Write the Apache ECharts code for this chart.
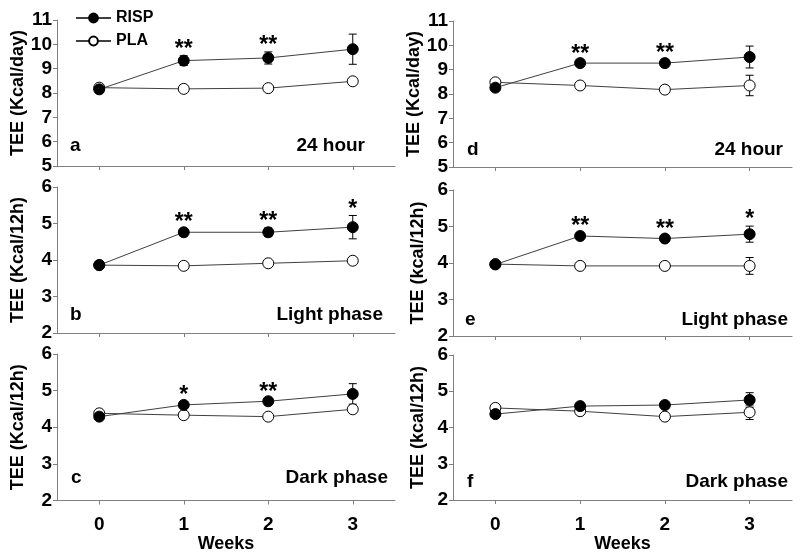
<!DOCTYPE html>
<html><head><meta charset="utf-8">
<script src="https://cdn.jsdelivr.net/npm/echarts@6/dist/echarts.min.js"></script>
<style>html,body{margin:0;padding:0;background:#fff}#c{width:800px;height:555px}</style>
</head><body><div id="c"></div>
<script>
const weeks = ['0', '1', '2', '3'];
const yTicks24 = [5, 11];
const yTicks12 = [2, 6];

// Panel a (left, 24 hour)
const rispA = [8.15, 9.33, 9.44, 9.80];
const rispAErr = [0.08, 0.20, 0.25, 0.62];
const plaA = [8.22, 8.17, 8.20, 8.48];
const plaAErr = [0.08, 0.12, 0.08, 0.10];
const starsA = ['', '**', '**', ''];
// Panel b (left, light phase)
const rispB = [3.86, 4.76, 4.76, 4.90];
const rispBErr = [0.05, 0.10, 0.12, 0.32];
const plaB = [3.86, 3.84, 3.91, 3.98];
const plaBErr = [0.05, 0.05, 0.05, 0.07];
const starsB = ['', '**', '**', '*'];
// Panel c (left, dark phase)
const rispC = [4.29, 4.61, 4.71, 4.91];
const rispCErr = [0.05, 0.08, 0.08, 0.28];
const plaC = [4.38, 4.33, 4.29, 4.49];
const plaCErr = [0.05, 0.08, 0.05, 0.08];
const starsC = ['', '*', '**', ''];
// Panel d (right, 24 hour)
const rispD = [8.26, 9.27, 9.27, 9.52];
const rispDErr = [0.08, 0.12, 0.15, 0.45];
const plaD = [8.48, 8.35, 8.18, 8.35];
const plaDErr = [0.08, 0.12, 0.15, 0.42];
const starsD = ['', '**', '**', ''];
// Panel e (right, light phase)
const rispE = [3.96, 4.74, 4.67, 4.79];
const rispEErr = [0.05, 0.08, 0.08, 0.22];
const plaE = [3.97, 3.92, 3.92, 3.92];
const plaEErr = [0.05, 0.06, 0.06, 0.23];
const starsE = ['', '**', '**', '*'];
// Panel f (right, dark phase)
const rispF = [4.37, 4.59, 4.62, 4.76];
const rispFErr = [0.05, 0.06, 0.06, 0.20];
const plaF = [4.54, 4.45, 4.30, 4.42];
const plaFErr = [0.05, 0.05, 0.07, 0.20];
const starsF = ['', '', '', ''];

const yNames = ['TEE (Kcal/day)', 'TEE (Kcal/12h)', 'TEE (Kcal/12h)', 'TEE (Kcal/day)', 'TEE (kcal/12h)', 'TEE (kcal/12h)'];
const panelLetters = ['a', 'b', 'c', 'd', 'e', 'f'];
const panelTitles = ['24 hour', 'Light phase', 'Dark phase', '24 hour', 'Light phase', 'Dark phase'];

const FONT = 'Liberation Sans, Arial, sans-serif';
const panels = [
  {risp: rispA, re: rispAErr, pla: plaA, pe: plaAErr, stars: starsA, yr: yTicks24},
  {risp: rispB, re: rispBErr, pla: plaB, pe: plaBErr, stars: starsB, yr: yTicks12},
  {risp: rispC, re: rispCErr, pla: plaC, pe: plaCErr, stars: starsC, yr: yTicks12},
  {risp: rispD, re: rispDErr, pla: plaD, pe: plaDErr, stars: starsD, yr: yTicks24},
  {risp: rispE, re: rispEErr, pla: plaE, pe: plaEErr, stars: starsE, yr: yTicks12},
  {risp: rispF, re: rispFErr, pla: plaF, pe: plaFErr, stars: starsF, yr: yTicks12}
];

const gridPos = [
  {left: 57, top: 20, width: 338, height: 146},
  {left: 57, top: 187, width: 338, height: 146},
  {left: 57, top: 354, width: 338, height: 146.5},
  {left: 453, top: 21, width: 339, height: 146},
  {left: 453, top: 190, width: 339, height: 146},
  {left: 453, top: 355, width: 339, height: 145}
];

const AXC = '#808080';
const grids = [], xAxes = [], yAxes = [], series = [];
panels.forEach((p, i) => {
  grids.push(gridPos[i]);
  const bottomRow = (i === 2 || i === 5);
  xAxes.push({
    type: 'category', gridIndex: i, data: weeks, boundaryGap: true,
    axisLine: {show: true, lineStyle: {color: AXC, width: 1}},
    axisTick: {show: true, alignWithLabel: true, length: 4, lineStyle: {color: AXC}},
    axisLabel: {show: bottomRow, margin: 15, color: '#000', fontFamily: FONT, fontWeight: 'bold', fontSize: 19},
    name: bottomRow ? 'Weeks' : '', nameLocation: 'middle', nameGap: 34,
    nameTextStyle: {color: '#000', fontFamily: FONT, fontWeight: 'bold', fontSize: 18},
    splitLine: {show: false}
  });
  yAxes.push({
    type: 'value', gridIndex: i, min: p.yr[0], max: p.yr[1], interval: 1,
    axisLine: {show: true, lineStyle: {color: AXC, width: 1}},
    axisTick: {show: true, length: 4, lineStyle: {color: AXC}},
    axisLabel: {margin: 5, color: '#000', fontFamily: FONT, fontWeight: 'bold', fontSize: 19},
    splitLine: {show: false},
    name: yNames[i], nameLocation: 'middle', nameGap: i < 3 ? 29.5 : 26,
    nameTextStyle: {color: '#000', fontFamily: FONT, fontWeight: 'bold', fontSize: 18}
  });
  const mkErr = (vals, errs, stars) => ({
    type: 'custom', xAxisIndex: i, yAxisIndex: i, z: 1, silent: true,
    data: vals.map((v, k) => [k, v, errs[k]]),
    renderItem: (params, api) => {
      const x = api.value(0), m = api.value(1), e = api.value(2);
      const top = api.coord([x, m + e]);
      const bot = api.coord([x, m - e]);
      const w = 4;
      const ls = {stroke: '#000', lineWidth: 1};
      const children = [
        {type: 'line', shape: {x1: top[0], y1: top[1], x2: bot[0], y2: bot[1]}, style: ls},
        {type: 'line', shape: {x1: top[0] - w, y1: top[1], x2: top[0] + w, y2: top[1]}, style: ls},
        {type: 'line', shape: {x1: bot[0] - w, y1: bot[1], x2: bot[0] + w, y2: bot[1]}, style: ls}
      ];
      const s = stars ? stars[params.dataIndex] : '';
      if (s) {
        children.push({type: 'text', style: {text: s, x: top[0], y: top[1] - 6, align: 'center', verticalAlign: 'middle',
          font: 'bold 23px ' + FONT, fill: '#000'}});
      }
      return {type: 'group', children};
    }
  });
  series.push(mkErr(p.pla, p.pe, null));
  series.push(mkErr(p.risp, p.re, p.stars));
  series.push({
    name: 'PLA', type: 'line', xAxisIndex: i, yAxisIndex: i, data: p.pla, z: 3,
    symbol: 'circle', symbolSize: 11, lineStyle: {color: '#404040', width: 1},
    itemStyle: {color: '#fff', borderColor: '#000', borderWidth: 1}, silent: true
  });
  series.push({
    name: 'RISP', type: 'line', xAxisIndex: i, yAxisIndex: i, data: p.risp, z: 4,
    symbol: 'circle', symbolSize: 11, lineStyle: {color: '#404040', width: 1},
    itemStyle: {color: '#000', borderColor: '#000', borderWidth: 1}, silent: true
  });
});

const labelPos = [
  {lx: 70, rx: 365, y: 147}, {lx: 70, rx: 383, y: 316}, {lx: 71, rx: 388, y: 479},
  {lx: 467, rx: 783, y: 151}, {lx: 465, rx: 788, y: 321}, {lx: 467, rx: 788, y: 483}
];
const graphics = [];
labelPos.forEach((lp, i) => {
  graphics.push({type: 'text', left: lp.lx, top: lp.y - 11, style: {text: panelLetters[i], font: 'bold 19px ' + FONT, fill: '#000'}});
  graphics.push({type: 'text', right: 800 - lp.rx, top: lp.y - 11, style: {text: panelTitles[i], font: 'bold 19px ' + FONT, fill: '#000'}});
});

const chart = echarts.init(document.getElementById('c'), null, {renderer: 'canvas'});
chart.setOption({
  animation: false,
  backgroundColor: '#fff',
  grid: grids, xAxis: xAxes, yAxis: yAxes, series,
  legend: {
    data: ['RISP', 'PLA'], orient: 'vertical', left: 75, top: 10, padding: 0, itemWidth: 35, itemHeight: 11,
    itemGap: 7, itemTextGap: 9,
    textStyle: {color: '#000', fontFamily: FONT, fontWeight: 'bold', fontSize: 16}
  },
  graphic: graphics
});
</script></body></html>
